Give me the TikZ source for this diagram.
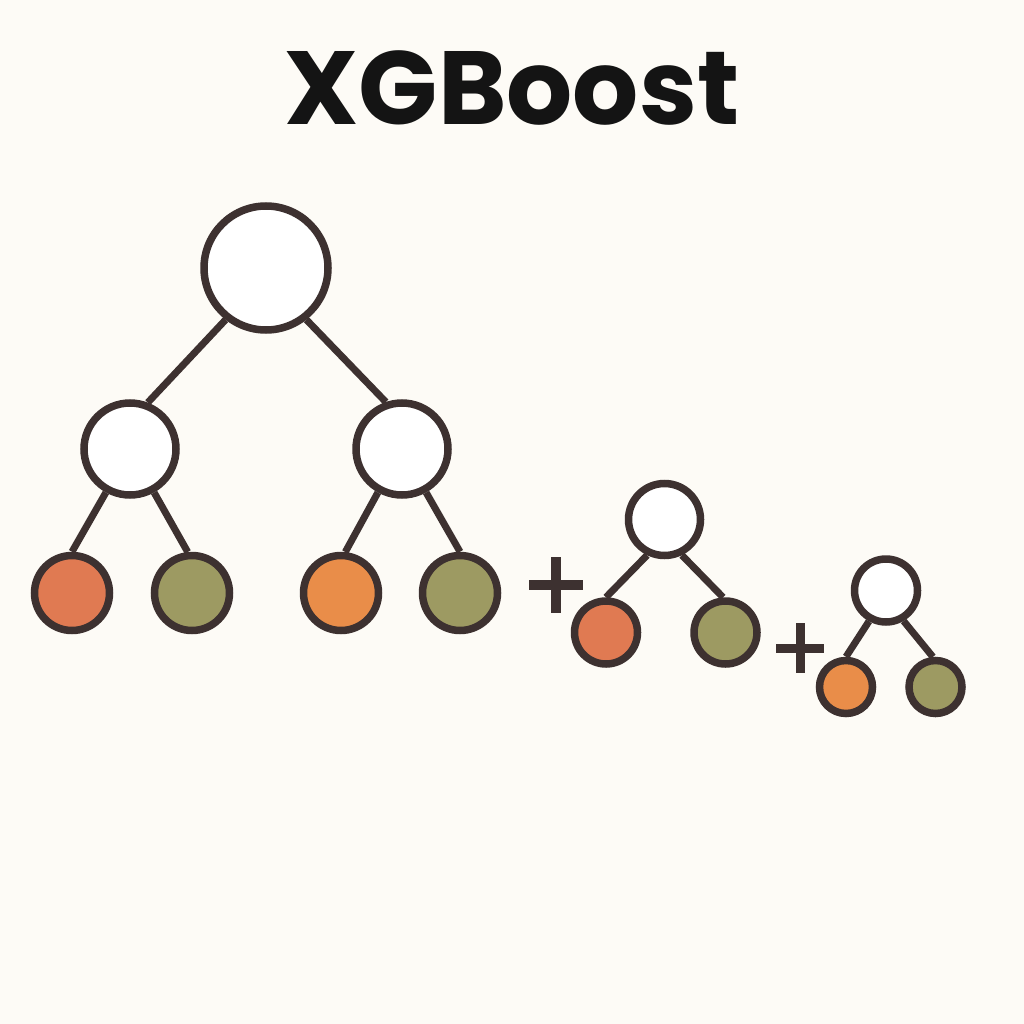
\documentclass[tikz,border=0pt]{standalone}
\usepackage{fontspec}
\newfontfamily\titlefont{Poppins}
\definecolor{bgc}{HTML}{FDFBF6}
\definecolor{ink}{HTML}{3D3130}
\definecolor{leafred}{HTML}{E07A52}
\definecolor{leafolive}{HTML}{9D9A62}
\definecolor{leaforange}{HTML}{E98D49}
\begin{document}
\begin{tikzpicture}[x=1pt,y=-1pt,
  tnode/.style={circle,draw=ink,line width=7.5pt,fill=white,inner sep=0pt,minimum size=#1},
  edge/.style={draw=ink,line width=7pt},
  plusbar/.style={fill=ink,draw=none}]
\fill[bgc] (0,0) rectangle (1024,1024);
\useasboundingbox (0,0) rectangle (1024,1024);
\node[font=\titlefont\bfseries\fontsize{104}{110}\selectfont,text=black!92] (title) at (512,88) {XGBoost};
% big tree
\node[tnode=124] (r) at (266,268) {};
\node[tnode=92] (a) at (130,449) {};
\node[tnode=92] (b) at (402,449) {};
\node[tnode=75,fill=leafred] (a1) at (72,593) {};
\node[tnode=75,fill=leafolive] (a2) at (192,593) {};
\node[tnode=75,fill=leaforange] (b1) at (341,593) {};
\node[tnode=75,fill=leafolive] (b2) at (460,593) {};
\draw[edge] (r.232) -- (a.69); \draw[edge] (r.308) -- (b.109);
\draw[edge] (a.241) -- (a1.90); \draw[edge] (a.299) -- (a2.96);
\draw[edge] (b.241) -- (b1.84); \draw[edge] (b.299) -- (b2.90);
% plus 1
\node[inner sep=0pt,minimum size=0pt] (p1) at (556,585) {};
\fill[plusbar] ([xshift=-27pt,yshift=-5pt]p1.center) rectangle ([xshift=27pt,yshift=5pt]p1.center);
\fill[plusbar] ([xshift=-5pt,yshift=-28pt]p1.center) rectangle ([xshift=5pt,yshift=28pt]p1.center);
% tree 2
\node[tnode=72] (s) at (664.5,519.5) {};
\node[tnode=63,fill=leafred] (s1) at (606,632.5) {};
\node[tnode=63,fill=leafolive] (s2) at (725.5,632.5) {};
\draw[edge] (s.244) -- (s1.90); \draw[edge] (s.296) -- (s2.94);
% plus 2
\node[inner sep=0pt,minimum size=0pt] (p2) at (800,648) {};
\fill[plusbar] ([xshift=-24pt,yshift=-4.5pt]p2.center) rectangle ([xshift=24pt,yshift=4.5pt]p2.center);
\fill[plusbar] ([xshift=-4.5pt,yshift=-25pt]p2.center) rectangle ([xshift=4.5pt,yshift=25pt]p2.center);
% tree 3
\node[tnode=63] (t) at (886,590.5) {};
\node[tnode=53,fill=leaforange] (t1) at (846,687) {};
\node[tnode=53,fill=leafolive] (t2) at (935.5,687) {};
\draw[edge] (t.241) -- (t1.90); \draw[edge] (t.300) -- (t2.95);
\end{tikzpicture}
\end{document}
